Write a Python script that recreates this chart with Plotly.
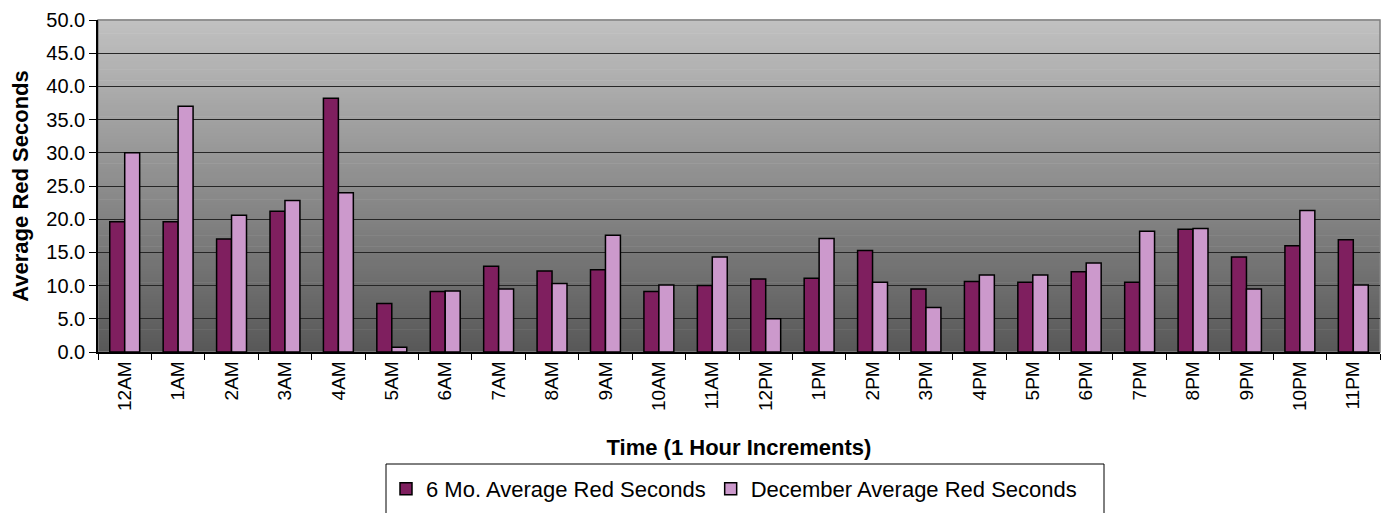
import plotly.graph_objects as go

hours = ["12AM", "1AM", "2AM", "3AM", "4AM", "5AM", "6AM", "7AM", "8AM", "9AM", "10AM", "11AM",
         "12PM", "1PM", "2PM", "3PM", "4PM", "5PM", "6PM", "7PM", "8PM", "9PM", "10PM", "11PM"]
six_month_avg = [19.6, 19.6, 17.0, 21.2, 38.2, 7.3, 9.1, 12.9, 12.2, 12.4, 9.1, 10.0,
                 11.0, 11.1, 15.3, 9.5, 10.6, 10.5, 12.1, 10.5, 18.5, 14.3, 16.0, 16.9]
december_avg = [30.0, 37.0, 20.6, 22.8, 24.0, 0.7, 9.2, 9.5, 10.3, 17.6, 10.1, 14.3,
                5.0, 17.1, 10.5, 6.7, 11.6, 11.6, 13.4, 18.2, 18.6, 9.5, 21.3, 10.1]
y_ticks = [0, 5, 10, 15, 20, 25, 30, 35, 40, 45, 50]

FONT = "Arial, 'Liberation Sans', sans-serif"
DARK = "#7F1F5F"
LIGHT = "#CC99CC"

# page body has an 8px margin; figure is placed at (8, 8)
OFF = 8
W, H = 1398 - OFF, 513 - OFF
# target plot area in page pixels
PL, PR, PT, PB = 98, 1380, 20, 352
L, R, T, B = PL - OFF, PR - OFF, PT - OFF, PB - OFF

fig = go.Figure()
fig.add_trace(go.Bar(x=hours, y=six_month_avg, name="6 Mo. Average Red Seconds",
                     marker=dict(color=DARK, line=dict(color="black", width=1.5))))
fig.add_trace(go.Bar(x=hours, y=december_avg, name="December Average Red Seconds",
                     marker=dict(color=LIGHT, line=dict(color="black", width=1.5))))

# gradient plot background (light grey at top to dark grey at bottom)
shapes = []
n = 120
top = (193, 193, 193)
bot = (88, 88, 88)
for i in range(n):
    t = (i + 0.5) / n
    c = tuple(int(round(bot[k] + (top[k] - bot[k]) * t)) for k in range(3))
    shapes.append(dict(type="rect", xref="x domain", yref="y domain",
                       x0=0, x1=1, y0=i / n, y1=(i + 1) / n + 0.002,
                       fillcolor="rgb(%d,%d,%d)" % c, line=dict(width=0), layer="below"))
shapes.append(dict(type="rect", xref="x domain", yref="y domain", x0=0, x1=1, y0=0, y1=1,
                   line=dict(color="#808080", width=1.5), fillcolor="rgba(0,0,0,0)", layer="below"))

def px_x(p):
    return (p - PL) / (PR - PL)
def px_y(p):
    return (PB - p) / (PB - PT)

# legend frame (runs off the bottom of the picture as in the reference)
shapes.append(dict(type="rect", xref="paper", yref="paper",
                   x0=px_x(386), x1=px_x(1104), y0=px_y(464), y1=px_y(540),
                   line=dict(color="black", width=1), fillcolor="white", layer="below"))

fig.update_layout(
    width=W, height=H,
    margin=dict(l=L, r=W - R, t=T, b=H - B, autoexpand=False),
    paper_bgcolor="white", plot_bgcolor="rgba(0,0,0,0)",
    barmode="group", bargap=0.44, bargroupgap=0,
    font=dict(family=FONT, size=19, color="black"),
    shapes=shapes,
    showlegend=True,
    legend=dict(orientation="h", x=px_x(386), xanchor="left", y=px_y(489), yanchor="middle",
                font=dict(family=FONT, size=22, color="black"), bgcolor="rgba(0,0,0,0)",
                borderwidth=0, traceorder="normal", itemclick=False),
    xaxis=dict(type="category", showgrid=False, showline=True, linecolor="black", linewidth=1.5,
               ticks="outside", tickson="boundaries", ticklen=6, tickcolor="black", tickwidth=1,
               tickangle=-90, tickfont=dict(family=FONT, size=19, color="black"),
               title=dict(text="<b>Time (1 Hour Increments)</b>", standoff=30,
                          font=dict(family=FONT, size=22, color="black"))),
    yaxis=dict(range=[0, 50], tickvals=y_ticks, tickformat=".1f", showgrid=True,
               gridcolor="#262626", gridwidth=1, zeroline=False, showline=True,
               linecolor="black", linewidth=1.5, ticks="outside", ticklen=7, tickcolor="black",
               tickfont=dict(family=FONT, size=20, color="black"),
               title=dict(text="<b>Average Red Seconds</b>", standoff=12,
                          font=dict(family=FONT, size=22, color="black"))),
)

fig.write_html("out.html")
